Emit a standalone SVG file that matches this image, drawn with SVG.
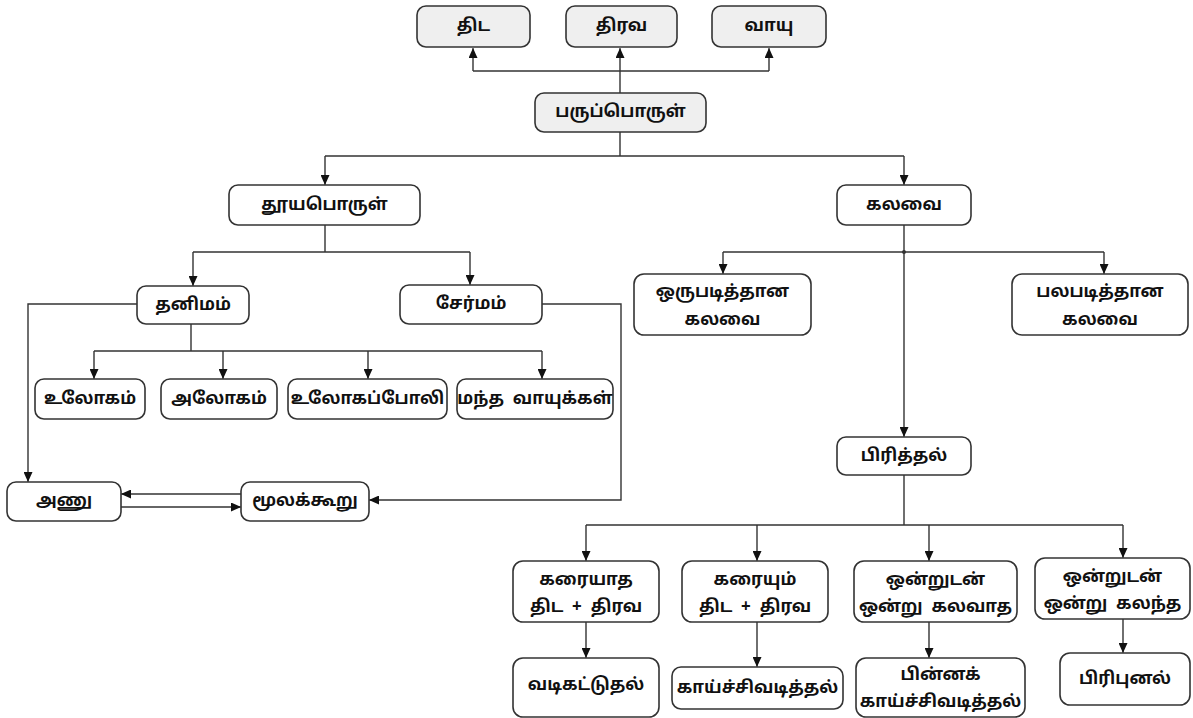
<svg xmlns="http://www.w3.org/2000/svg" width="1193" height="718" viewBox="0 0 1193 718">
<defs>
<marker id="ah" markerUnits="userSpaceOnUse" markerWidth="9" markerHeight="9" refX="10" refY="4.5" orient="auto">
<path d="M0,0 L10,4.5 L0,9 z" fill="#111"/>
</marker>
<style>
.box{fill:#fff;stroke:#333;stroke-width:1.6}
.gbox{fill:#efefef;stroke:#333;stroke-width:1.6}
.t{font-family:"Noto Sans Tamil","Lohit Tamil","Latha","Noto Sans",sans-serif;font-size:17px;font-weight:bold;fill:#111;text-anchor:middle;dominant-baseline:central;white-space:pre}
.c{fill:none;stroke:#333;stroke-width:1.4}
.a{fill:none;stroke:#333;stroke-width:1.4;marker-end:url(#ah)}
</style>
</defs>
<rect width="1193" height="718" fill="#fff"/>
<g id="connectors">
<path class="a" d="M620,93 V48"/>
<path class="c" d="M473,71 H769"/>
<path class="a" d="M473,71 V48"/>
<path class="a" d="M769,71 V48"/>
<path class="c" d="M620,132 V156 M325,156 H904"/>
<path class="a" d="M325,156 V185"/>
<path class="a" d="M904,156 V185"/>
<path class="c" d="M325,225 V252 M193,252 H470"/>
<path class="a" d="M193,252 V286"/>
<path class="a" d="M470,252 V285"/>
<path class="a" d="M137,304 H28 V482"/>
<path class="c" d="M191,324 V351 M94,351 H542"/>
<path class="a" d="M94,351 V379"/>
<path class="a" d="M223,351 V379"/>
<path class="a" d="M368,351 V379"/>
<path class="a" d="M542,351 V379"/>
<path class="a" d="M542,304 H621 V500 H369"/>
<path class="a" d="M241,494 H121"/>
<path class="a" d="M121,507 H241"/>
<path class="a" d="M904,225 V437"/>
<path class="c" d="M723,252 H1104"/>
<circle cx="904" cy="252" r="2" fill="#333"/>
<path class="a" d="M723,252 V274"/>
<path class="a" d="M1104,252 V274"/>
<path class="c" d="M904,475 V525 M586,525 H1123"/>
<path class="a" d="M586,525 V561"/>
<path class="a" d="M757,525 V561"/>
<path class="a" d="M929,525 V561"/>
<path class="a" d="M1123,525 V558"/>
<path class="a" d="M586,622 V658"/>
<path class="a" d="M757,622 V667"/>
<path class="a" d="M929,622 V658"/>
<path class="a" d="M1123,619 V653"/>
</g>
<g id="n_thida"><rect class="gbox" x="417" y="6" width="113" height="41" rx="9"/><text class="t" x="473.5" y="26.5">திட</text></g>
<g id="n_thirava"><rect class="gbox" x="566" y="6" width="111" height="41" rx="9"/><text class="t" x="621.5" y="26.5">திரவ</text></g>
<g id="n_vayu"><rect class="gbox" x="712" y="6" width="114" height="41" rx="9"/><text class="t" x="769" y="26.5">வாயு</text></g>
<g id="n_paruporul"><rect class="gbox" x="535" y="93" width="171" height="39" rx="9"/><text class="t" x="620.5" y="112.5">பருப்பொருள்</text></g>
<g id="n_thooya"><rect class="box" x="229" y="185" width="191" height="40" rx="9"/><text class="t" x="324.5" y="205">தூயபொருள்</text></g>
<g id="n_kalavai"><rect class="box" x="837" y="185" width="134" height="40" rx="9"/><text class="t" x="904" y="205">கலவை</text></g>
<g id="n_thanimam"><rect class="box" x="137" y="286" width="112" height="38" rx="9"/><text class="t" x="193" y="305">தனிமம்</text></g>
<g id="n_sermam"><rect class="box" x="400" y="285" width="142" height="39" rx="9"/><text class="t" x="471" y="304.5">சேர்மம்</text></g>
<g id="n_ulogam"><rect class="box" x="35" y="379" width="110" height="40" rx="9"/><text class="t" x="90" y="399">உலோகம்</text></g>
<g id="n_alogam"><rect class="box" x="161" y="379" width="116" height="40" rx="9"/><text class="t" x="219" y="399">அலோகம்</text></g>
<g id="n_ulogappoli"><rect class="box" x="288" y="379" width="159" height="40" rx="9"/><text class="t" x="367.5" y="399">உலோகப்போலி</text></g>
<g id="n_mantha"><rect class="box" x="457" y="379" width="156" height="40" rx="9"/><text class="t" x="535" y="399">மந்த  வாயுக்கள்</text></g>
<g id="n_anu"><rect class="box" x="7" y="482" width="114" height="39" rx="9"/><text class="t" x="64" y="501.5">அணு</text></g>
<g id="n_moolakkooru"><rect class="box" x="241" y="482" width="128" height="39" rx="9"/><text class="t" x="305" y="501.5">மூலக்கூறு</text></g>
<g id="n_orupadi"><rect class="box" x="634" y="274" width="177" height="61" rx="10"/><text class="t" x="722.5" y="292">ஒருபடித்தான</text><text class="t" x="722.5" y="320">கலவை</text></g>
<g id="n_palapadi"><rect class="box" x="1012" y="274" width="176" height="61" rx="10"/><text class="t" x="1100" y="292">பலபடித்தான</text><text class="t" x="1100" y="320">கலவை</text></g>
<g id="n_pirithal"><rect class="box" x="837" y="437" width="134" height="38" rx="9"/><text class="t" x="904" y="456">பிரித்தல்</text></g>
<g id="n_karaiyatha"><rect class="box" x="513" y="561" width="146" height="61" rx="10"/><text class="t" x="586" y="580">கரையாத</text><text class="t" x="586" y="607">திட  +  திரவ</text></g>
<g id="n_karaiyum"><rect class="box" x="682" y="561" width="146" height="61" rx="10"/><text class="t" x="755" y="580">கரையும்</text><text class="t" x="755" y="607">திட  +  திரவ</text></g>
<g id="n_kalavatha"><rect class="box" x="854" y="561" width="163" height="61" rx="10"/><text class="t" x="935.5" y="580">ஒன்றுடன்</text><text class="t" x="935.5" y="607">ஒன்று  கலவாத</text></g>
<g id="n_kalantha"><rect class="box" x="1035" y="558" width="155" height="61" rx="10"/><text class="t" x="1112.5" y="577">ஒன்றுடன்</text><text class="t" x="1112.5" y="604">ஒன்று  கலந்த</text></g>
<g id="n_vadikattuthal"><rect class="box" x="513" y="658" width="146" height="59" rx="10"/><text class="t" x="586" y="685">வடிகட்டுதல்</text></g>
<g id="n_kaaichi"><rect class="box" x="672" y="667" width="171" height="42" rx="9"/><text class="t" x="757.5" y="688">காய்ச்சிவடித்தல்</text></g>
<g id="n_pinna"><rect class="box" x="856" y="658" width="169" height="59" rx="10"/><text class="t" x="940.5" y="675">பின்னக்</text><text class="t" x="940.5" y="702">காய்ச்சிவடித்தல்</text></g>
<g id="n_piripunal"><rect class="box" x="1060" y="653" width="130" height="52" rx="10"/><text class="t" x="1125" y="679">பிரிபுனல்</text></g>
</svg>
